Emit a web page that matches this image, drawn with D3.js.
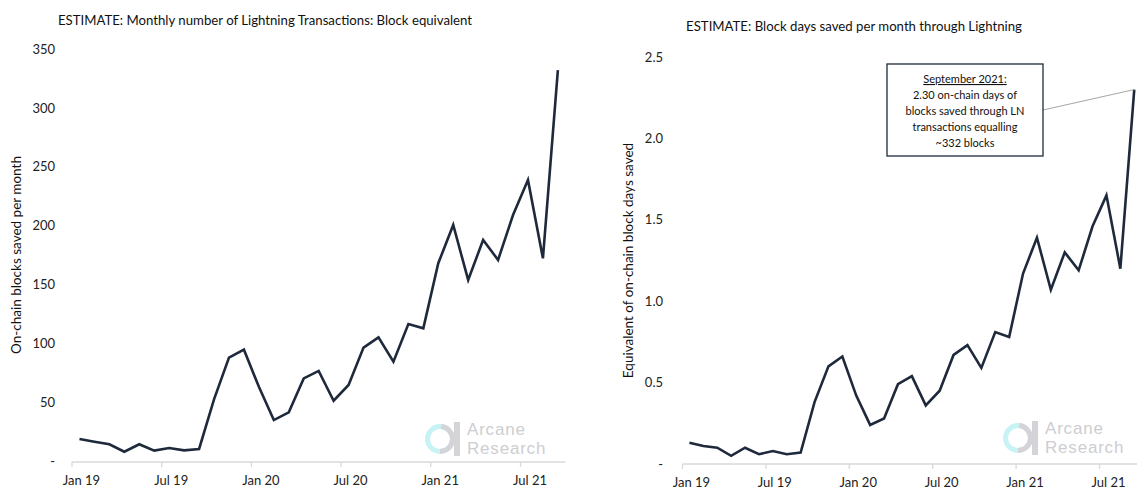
<!DOCTYPE html>
<html>
<head>
<meta charset="utf-8">
<script src="https://cdn.jsdelivr.net/npm/d3@7"></script>
<style>
  body { margin: 0; background: white; }
  svg { display: block; font-family: Lato, "Noto Sans", sans-serif; }
</style>
</head>
<body>
<div id="chart"></div>
<script>

// Months on the x axis (one category per month)
var months = ["Jan 19", "Feb 19", "Mar 19", "Apr 19", "May 19", "Jun 19", "Jul 19", "Aug 19", "Sep 19", "Oct 19", "Nov 19", "Dec 19",
              "Jan 20", "Feb 20", "Mar 20", "Apr 20", "May 20", "Jun 20", "Jul 20", "Aug 20", "Sep 20", "Oct 20", "Nov 20", "Dec 20",
              "Jan 21", "Feb 21", "Mar 21", "Apr 21", "May 21", "Jun 21", "Jul 21", "Aug 21", "Sep 21"];

// Labelled months
var monthLabels = ["Jan 19", "Jul 19", "Jan 20", "Jul 20", "Jan 21", "Jul 21"];

// Left chart: on-chain blocks saved per month
var blocksSaved = [18.7, 16.4, 14.2, 7.9, 14.2, 8.8, 11, 9, 10.2, 52.4, 87.8, 94.6,
                   63, 34.8, 41.3, 70.2, 76.5, 51.2, 64.6, 96.3, 105, 84.4, 116.4, 112.7,
                   168, 200.5, 153.8, 187.8, 170.8, 209, 238.7, 172.2, 332];
var blocksTicks = [0, 50, 100, 150, 200, 250, 300, 350];

// Right chart: block days saved per month
var daysSaved = [0.13, 0.11, 0.10, 0.05, 0.10, 0.06, 0.08, 0.06, 0.07, 0.38, 0.60, 0.66,
                 0.42, 0.24, 0.28, 0.49, 0.54, 0.36, 0.45, 0.67, 0.73, 0.59, 0.81, 0.78,
                 1.17, 1.39, 1.07, 1.30, 1.19, 1.46, 1.65, 1.20, 2.30];
var daysTicks = [0, 0.5, 1.0, 1.5, 2.0, 2.5];

// Annotation text
var noteTitle = "September 2021:";
var noteLines = ["2.30 on-chain days of", "blocks saved through LN", "transactions equalling", "~332 blocks"];

var lineColor = "#1e2a3c";

var svg = d3.select("#chart")
            .append("svg")
              .attr("width", 1137)
              .attr("height", 490);


function draw_panel(opt) {

  var xScale = d3.scaleBand()
                  .domain(months)
                  .range([opt.x0, opt.x0 + opt.step * months.length])
                  .padding(0);

  var yScale = d3.scaleLinear()
                  .domain([0, opt.yMax])
                  .range([opt.yBottom, opt.yTop]);

  var g = svg.append("g");

  // Title
  g.append("text")
    .attr("x", opt.titleX)
    .attr("y", opt.titleY)
    .style("text-anchor", "middle")
    .style("font-size", "13.2px")
    .attr("fill", "#111")
    .text(opt.title);

  // Y axis label
  g.append("text")
    .attr("transform", "translate(" + opt.yLabelX + "," + ((opt.yTop + opt.yBottom) / 2) + ") rotate(-90)")
    .style("text-anchor", "middle")
    .style("font-size", "13.5px")
    .attr("fill", "#111")
    .text(opt.yLabel);

  // Y axis (labels only, no line)
  var yAxis = d3.axisLeft(yScale)
                .tickValues(opt.yTicks)
                .tickSize(0)
                .tickPadding(0)
                .tickFormat(function(d) { return d === 0 ? "-" : opt.fmt(d); });
  var yG = g.append("g")
            .attr("transform", "translate(" + opt.yTickX + ",0)")
            .call(yAxis);
  yG.select(".domain").remove();
  yG.selectAll("text")
    .style("font-size", "13px")
    .style("font-family", "Lato, 'Noto Sans', sans-serif")
    .attr("fill", "#222");

  // X axis line
  g.append("line")
    .attr("x1", opt.x0)
    .attr("x2", opt.x0 + opt.step * months.length)
    .attr("y1", opt.axisY)
    .attr("y2", opt.axisY)
    .attr("stroke", "#d9d9d9")
    .attr("stroke-width", 1.3);

  // Tick marks on category boundaries
  g.selectAll(".xtick")
    .data(monthLabels)
    .enter()
    .append("line")
      .attr("x1", function(d) { return xScale(d); })
      .attr("x2", function(d) { return xScale(d); })
      .attr("y1", opt.axisY)
      .attr("y2", opt.axisY + 5)
      .attr("stroke", "#d9d9d9")
      .attr("stroke-width", 1.3);

  // Tick labels centred on the category
  g.selectAll(".xlabel")
    .data(monthLabels)
    .enter()
    .append("text")
      .attr("x", function(d) { return xScale(d) + xScale.bandwidth() / 2 + 2; })
      .attr("y", opt.axisY + 23)
      .style("text-anchor", "middle")
      .style("font-size", "13px")
      .attr("fill", "#222")
      .text(function(d) { return d; });

  // Logo watermark
  draw_logo(g, opt.logoX, opt.logoY);

  // Line
  var line = d3.line()
                .x(function(d, i) { return xScale(months[i]) + xScale.bandwidth() / 2; })
                .y(function(d) { return yScale(d); });

  g.append("path")
    .datum(opt.values)
    .attr("d", line)
    .attr("fill", "none")
    .attr("stroke", lineColor)
    .attr("stroke-width", 2.6)
    .attr("stroke-linejoin", "miter");

  return {x: xScale, y: yScale, g: g};
};


function draw_logo(g, x, y) {

  var logo = g.append("g")
              .attr("transform", "translate(" + x + "," + y + ")");

  // Ring: cyan left, grey right
  logo.append("circle")
        .attr("r", 12.5)
        .attr("fill", "none")
        .attr("stroke", "#c8f3f5")
        .attr("stroke-width", 5);
  logo.append("path")
        .attr("d", d3.arc().innerRadius(10).outerRadius(15).startAngle(0.1).endAngle(Math.PI)())
        .attr("fill", "#d3d3d8");
  logo.append("rect")
        .attr("x", 14)
        .attr("y", -17)
        .attr("width", 6)
        .attr("height", 34)
        .attr("fill", "#d3d3d8");

  logo.append("text")
        .attr("x", 27)
        .attr("y", -4)
        .style("font-family", "'Liberation Sans', Arial, sans-serif")
        .style("font-size", "17px")
        .style("letter-spacing", "0.8px")
        .attr("fill", "#cdcdd2")
        .text("Arcane");
  logo.append("text")
        .attr("x", 27)
        .attr("y", 15)
        .style("font-family", "'Liberation Sans', Arial, sans-serif")
        .style("font-size", "17px")
        .style("letter-spacing", "0.8px")
        .attr("fill", "#cdcdd2")
        .text("Research");
};


// Left panel
draw_panel({
  x0: 72, step: 14.95, yMax: 350, yTop: 49, yBottom: 461, axisY: 462,
  yTicks: blocksTicks, fmt: d3.format("d"), yTickX: 55, yLabelX: 21,
  yLabel: "On-chain blocks saved per month",
  title: "ESTIMATE: Monthly number of Lightning Transactions: Block equivalent",
  titleX: 265, titleY: 25,
  values: blocksSaved, logoX: 440, logoY: 439
});

// Right panel
var right = draw_panel({
  x0: 682.5, step: 13.9, yMax: 2.5, yTop: 57, yBottom: 464, axisY: 464,
  yTicks: daysTicks, fmt: d3.format(".1f"), yTickX: 663, yLabelX: 633,
  yLabel: "Equivalent of on-chain block days saved",
  title: "ESTIMATE: Block days saved per month through Lightning",
  titleX: 854, titleY: 31,
  values: daysSaved, logoX: 1018, logoY: 438
});

// Annotation box for September 2021
var lastIdx = months.length - 1;
var px = right.x(months[lastIdx]) + right.x.bandwidth() / 2;
var py = right.y(daysSaved[lastIdx]);
var box = {x: 887, y: 64, w: 156, h: 92};

right.g.append("line")
  .attr("x1", box.x + box.w)
  .attr("y1", 110)
  .attr("x2", px)
  .attr("y2", py)
  .attr("stroke", "#a6a6a6")
  .attr("stroke-width", 1);

right.g.append("rect")
  .attr("x", box.x)
  .attr("y", box.y)
  .attr("width", box.w)
  .attr("height", box.h)
  .attr("fill", "white")
  .attr("stroke", lineColor)
  .attr("stroke-width", 1.3);

right.g.append("text")
  .attr("x", box.x + box.w / 2)
  .attr("y", box.y + 19)
  .style("text-anchor", "middle")
  .style("font-size", "11px")
  .style("text-decoration", "underline")
  .attr("fill", "#111")
  .text(noteTitle);

right.g.selectAll(".note")
  .data(noteLines)
  .enter()
  .append("text")
    .attr("x", box.x + box.w / 2)
    .attr("y", function(d, i) { return box.y + 35 + i * 16; })
    .style("text-anchor", "middle")
    .style("font-size", "11px")
    .attr("fill", "#111")
    .text(function(d) { return d; });

</script>
</body>
</html>
